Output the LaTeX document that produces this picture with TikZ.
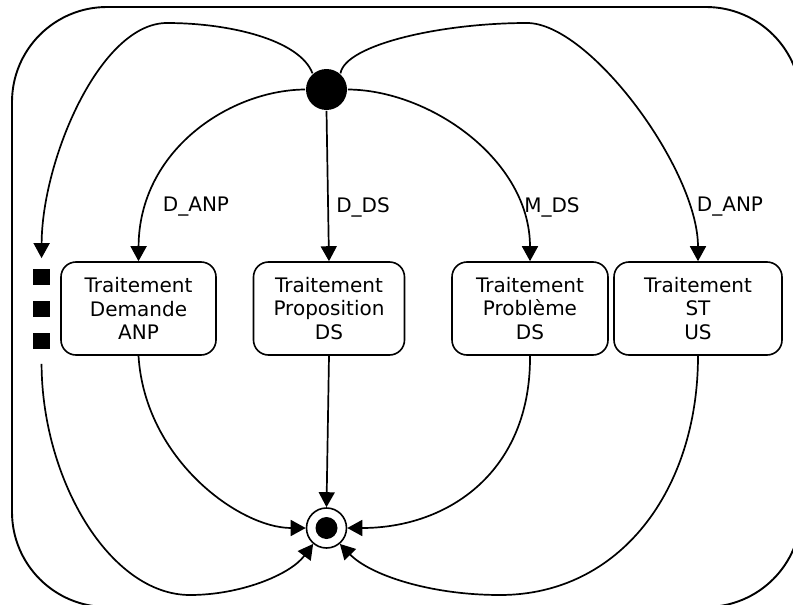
\documentclass[tikz,border=0pt]{standalone}
\usepackage{fontspec}
\setmainfont{DejaVu Sans}
\usetikzlibrary{arrows.meta}
\begin{document}
\begin{tikzpicture}[x=1pt,y=-1pt,
  line width=1.7pt,
  every node/.style={font=\fontsize{20}{23.5}\selectfont},
  state/.style={draw, fill=white, rounded corners=15pt, minimum height=93pt, align=center, inner sep=0pt, line width=1.6pt},
  initst/.style={circle, fill=black, minimum size=41pt, inner sep=0pt},
  finalst/.style={circle, draw, fill=white, minimum size=40pt, inner sep=0pt, line width=1.6pt},
  finaldot/.style={circle, fill=black, minimum size=22pt, inner sep=0pt},
  blk/.style={fill=black, minimum width=17pt, minimum height=16pt, inner sep=0pt},
  arr/.style={-{Triangle[length=15pt,width=16pt]}},
  lbl/.style={inner sep=0pt}
]
\useasboundingbox (0,0) rectangle (793,605);
\clip (0,0) rectangle (793,605);
\draw[line width=1.9pt, rounded corners=95pt] (12,7) rectangle (801,607);

\node[initst] (init) at (326.5,89.5) {};
\node[finalst] (final) at (326.5,528) {};
\node[finaldot] (fdot) at (final) {};

\node[state, minimum width=155pt] (b1) at (138.5,308.5) {Traitement\\Demande\\ANP};
\node[state, minimum width=151pt] (b2) at (329,308.5) {Traitement\\Proposition\\DS};
\node[state, minimum width=156pt] (b3) at (530,308.5) {Traitement\\Problème\\DS};
\node[state, minimum width=168pt] (b4) at (698,308.5) {Traitement\\ST\\US};

\node[blk] (sq1) at (41.5,277) {};
\node[blk] (sq2) at (41.5,309) {};
\node[blk] (sq3) at (41.5,341) {};

\node[lbl] (l1) at (196,207) {D\_ANP};
\node[lbl] (l2) at (363,207) {D\_DS};
\node[lbl] (l3) at (552,207) {M\_DS};
\node[lbl] (l4) at (730,207) {D\_ANP};

% from initial state
\draw[arr, shorten >=10pt] (init.131) .. controls (300,40) and (230,23) .. (167,23)
   .. controls (100,23) and (42,160) .. (sq1.north);
\draw[arr] (init.49) .. controls (345,45) and (440,23) .. (527,23)
   .. controls (590,23) and (698,170) .. (b4.north);
\draw[arr] (init.west) .. controls (230,90) and (139,150) .. (b1.north);
\draw[arr] (init.south) -- (b2.north);
\draw[arr] (init.east) .. controls (430,90) and (530,160) .. (b3.north);

% to final state
\draw[arr] (b1.south) .. controls (145,460) and (240,528) .. (final.west);
\draw[arr] (b2.south) -- (final.north);
\draw[arr] (b3.south) .. controls (531,470) and (450,528) .. (final.east);
\draw[arr, shorten <=14pt] (sq3.south) .. controls (42,480) and (110,595) .. (190,595)
   .. controls (240,595) and (290,575) .. (final.-130);
\draw[arr] (b4.south) .. controls (698,490) and (620,595) .. (500,595)
   .. controls (430,595) and (370,575) .. (final.-50);
\end{tikzpicture}
\end{document}
